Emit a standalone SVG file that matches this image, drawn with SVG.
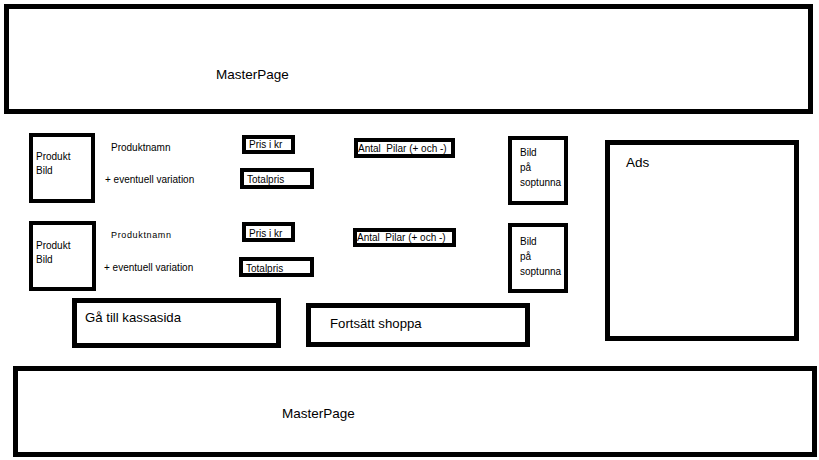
<svg xmlns="http://www.w3.org/2000/svg" width="819" height="460" viewBox="0 0 819 460">
<style>
.big{fill:#fff;stroke:#000;stroke-width:5}
.sm{fill:#fff;stroke:#000;stroke-width:4}
.t{font-family:"Liberation Sans",Arial,sans-serif;fill:#000;white-space:pre}
.l{font-size:13.5px}
.s{font-size:10px}
</style>
<rect width="819" height="460" fill="#fff"/>
<g id="masterpage-top">
<rect class="big" x="6.5" y="6.5" width="804" height="105"/>
<text class="t l" x="216" y="79">MasterPage</text>
</g>
<g id="produkt-bild-1">
<rect class="sm" x="31" y="135" width="62" height="66"/>
<text class="t s" x="36" y="160">Produkt</text>
<text class="t s" x="36" y="174">Bild</text>
</g>
<g id="produktnamn-1"><text class="t s" x="111" y="151">Produktnamn</text></g>
<g id="variation-1"><text class="t s" x="105" y="183">+ eventuell variation</text></g>
<g id="pris-1">
<rect class="sm" x="244" y="137" width="49" height="15"/>
<text class="t s" x="249" y="148">Pris i kr</text>
</g>
<g id="totalpris-1">
<rect class="sm" x="242" y="170" width="70" height="17"/>
<text class="t s" x="247" y="183">Totalpris</text>
</g>
<g id="antal-1">
<rect class="sm" x="356" y="140" width="97" height="16"/>
<text class="t s" x="358" y="152" xml:space="preserve">Antal  Pilar (+ och -)</text>
</g>
<g id="soptunna-1">
<rect class="sm" x="510" y="138" width="56" height="65"/>
<text class="t s" x="520" y="156">Bild</text>
<text class="t s" x="520" y="171">på</text>
<text class="t s" x="520" y="186">soptunna</text>
</g>
<g id="produkt-bild-2">
<rect class="sm" x="31" y="223" width="63" height="66"/>
<text class="t s" x="36" y="249">Produkt</text>
<text class="t s" x="36" y="263">Bild</text>
</g>
<g id="produktnamn-2"><text class="t s" x="111" y="238" style="font-size:9px" textLength="60">Produktnamn</text></g>
<g id="variation-2"><text class="t s" x="104" y="271">+ eventuell variation</text></g>
<g id="pris-2">
<rect class="sm" x="244" y="224" width="49" height="16"/>
<text class="t s" x="249" y="237">Pris i kr</text>
</g>
<g id="totalpris-2">
<rect class="sm" x="241" y="259" width="71" height="16"/>
<text class="t s" x="246" y="272">Totalpris</text>
</g>
<g id="antal-2">
<rect class="sm" x="355" y="230" width="99" height="15"/>
<text class="t s" x="357" y="241" xml:space="preserve">Antal  Pilar (+ och -)</text>
</g>
<g id="soptunna-2">
<rect class="sm" x="510" y="225" width="56" height="66"/>
<text class="t s" x="520" y="245">Bild</text>
<text class="t s" x="520" y="260">på</text>
<text class="t s" x="520" y="275">soptunna</text>
</g>
<g id="ads">
<rect class="big" x="607.5" y="142.5" width="189" height="196"/>
<text class="t l" x="626" y="167">Ads</text>
</g>
<g id="kassasida">
<rect class="big" x="74.5" y="300.5" width="204" height="45"/>
<text class="t" x="85" y="322" style="font-size:13.2px">Gå till kassasida</text>
</g>
<g id="fortsatt">
<rect class="big" x="308.5" y="305.5" width="219" height="39"/>
<text class="t" x="330" y="328" style="font-size:13.2px">Fortsätt shoppa</text>
</g>
<g id="masterpage-bottom">
<rect class="big" x="15.5" y="368.5" width="799" height="86"/>
<text class="t l" x="282" y="418">MasterPage</text>
</g>
<g id="connectors"></g>
</svg>
